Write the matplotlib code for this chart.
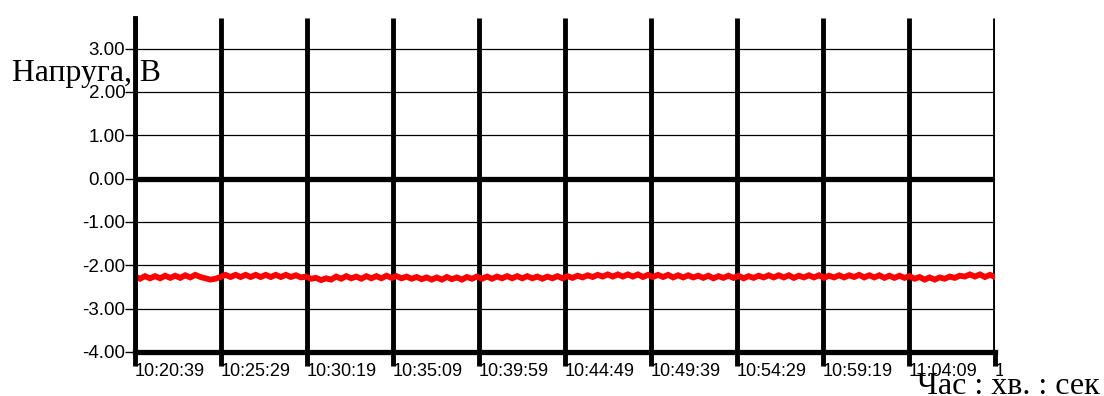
import matplotlib
matplotlib.use("Agg")
import matplotlib.pyplot as plt
from matplotlib.transforms import Bbox, TransformedBbox

# ---- data ----
start_seconds = 10 * 3600 + 20 * 60 + 39      # 10:20:39
tick_step_seconds = 290                       # 4 min 50 s
tick_labels = ["10:20:39", "10:25:29", "10:30:19", "10:35:09", "10:39:59",
               "10:44:49", "10:49:39", "10:54:29", "10:59:19", "11:04:09",
               "11:08:59"]
y_ticks = [-4.0, -3.0, -2.0, -1.0, 0.0, 1.0, 2.0, 3.0]
y_tick_labels = ["-4.00", "-3.00", "-2.00", "-1.00", "0.00", "1.00", "2.00", "3.00"]

voltage = [
    -2.26, -2.31, -2.25, -2.30, -2.25, -2.30, -2.24, -2.29, -2.24, -2.29, -2.23, -2.28, -2.22,
    -2.27, -2.30, -2.33, -2.31, -2.27,
    -2.22, -2.27, -2.22, -2.27, -2.22, -2.27, -2.22, -2.27, -2.22, -2.27, -2.22, -2.27, -2.22, -2.27, -2.23, -2.28,
    -2.26, -2.31, -2.29, -2.34, -2.30, -2.33,
    -2.26, -2.31, -2.25, -2.30, -2.26, -2.31, -2.25, -2.30, -2.25, -2.30, -2.24, -2.29, -2.25, -2.30, -2.26, -2.31, -2.27,
    -2.32, -2.28, -2.33, -2.28, -2.33, -2.27, -2.32, -2.28, -2.33, -2.27, -2.31, -2.26,
    -2.31, -2.26, -2.31, -2.26, -2.30, -2.25, -2.30, -2.25, -2.30, -2.25, -2.30, -2.26, -2.31, -2.26, -2.30, -2.25,
    -2.30, -2.25, -2.29, -2.24, -2.28, -2.23, -2.27, -2.22, -2.26, -2.21, -2.26, -2.21,
    -2.26, -2.21, -2.26, -2.21, -2.27, -2.22, -2.27, -2.22, -2.27, -2.22, -2.28, -2.23, -2.28, -2.23, -2.28, -2.24,
    -2.29, -2.24, -2.30, -2.25, -2.29, -2.24, -2.29, -2.24, -2.30, -2.25, -2.29, -2.24, -2.28, -2.23, -2.28, -2.23,
    -2.28, -2.23, -2.29, -2.24, -2.28, -2.23, -2.28, -2.23, -2.29, -2.24, -2.28, -2.23, -2.28, -2.23, -2.27, -2.22,
    -2.28, -2.23, -2.28, -2.23, -2.29, -2.24, -2.29, -2.24,
    -2.29, -2.25, -2.31, -2.27, -2.33, -2.28, -2.33, -2.28, -2.31, -2.26, -2.29, -2.24,
    -2.26, -2.21, -2.26, -2.21, -2.27, -2.22, -2.27,
]

total_span = tick_step_seconds * (len(tick_labels) - 1)
n = len(voltage)
times = [start_seconds + i * total_span / (n - 1) for i in range(n)]
tick_pos = [start_seconds + i * tick_step_seconds for i in range(len(tick_labels))]

# ---- figure ----
fig = plt.figure(figsize=(11.04, 3.96), dpi=100)
ax = fig.add_axes([135 / 1104, 1 - 352 / 396, (995 - 135) / 1104, (352 - 17.8) / 396])

ax.set_xlim(start_seconds, start_seconds + total_span)
ax.set_ylim(-4.0, 3.71)

# horizontal grid lines
for yv in y_ticks:
    if yv == 0.0:
        ax.axhline(yv, color="black", lw=3.8, zorder=3)
    elif yv != -4.0:
        ax.axhline(yv, color="black", lw=0.9, zorder=1)

# vertical grid lines
for tp in tick_pos:
    ax.axvline(tp, color="black", lw=3.5, zorder=2, solid_capstyle="butt")

ax.plot(times, voltage, color="#ff0000", lw=4.2, zorder=4, solid_joinstyle="miter")

for s in ["top", "right"]:
    ax.spines[s].set_visible(False)
ax.spines["left"].set_linewidth(3.5)
ax.spines["bottom"].set_linewidth(3.8)
ax.spines["left"].set_zorder(5)
ax.spines["bottom"].set_zorder(5)

ax.set_yticks(y_ticks)
ax.set_yticklabels(y_tick_labels, fontfamily="Liberation Sans", fontsize=13.5)
ax.tick_params(axis="y", length=7, width=1.0, pad=0, colors="black")

ax.set_xticks(tick_pos)
ax.set_xticklabels(tick_labels, fontfamily="Liberation Sans", fontsize=13, ha="left")
ax.tick_params(axis="x", length=10, width=3.5, pad=-2, colors="black")

clip_bbox = TransformedBbox(Bbox([[0, 0], [1003 / 1104, 1]]), fig.transFigure)
for lab in ax.get_xticklabels():
    lab.set_clip_on(True)
    lab.set_clip_box(clip_bbox)

fig.text(12 / 1104, 1 - 81 / 396, "Напруга, В", fontfamily="Liberation Serif",
         fontsize=22.8, ha="left", va="baseline", zorder=10)
fig.text(1100 / 1104, 1 - 394.5 / 396, "Час : хв. : сек", fontfamily="Liberation Serif",
         fontsize=23, ha="right", va="baseline")

fig.savefig("out.png", dpi=100)
